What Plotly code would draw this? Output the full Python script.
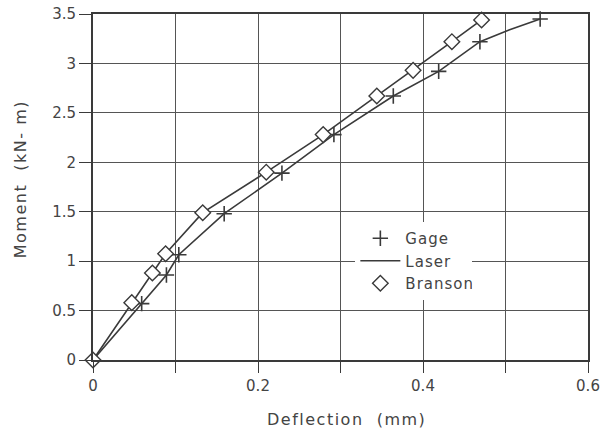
import plotly.graph_objects as go

# Data
gage_x = [0, 0.059, 0.089, 0.104, 0.159, 0.229, 0.292, 0.364, 0.419, 0.469, 0.542]
gage_y = [0, 0.57, 0.86, 1.065, 1.48, 1.89, 2.28, 2.67, 2.92, 3.22, 3.45]

laser_x = [0, 0.059, 0.089, 0.104, 0.159, 0.229, 0.292, 0.364, 0.419, 0.469, 0.505, 0.542]
laser_y = [0, 0.57, 0.86, 1.065, 1.48, 1.89, 2.28, 2.67, 2.92, 3.22, 3.34, 3.45]

branson_x = [0, 0.047, 0.072, 0.088, 0.133, 0.210, 0.279, 0.344, 0.388, 0.435, 0.471]
branson_y = [0, 0.58, 0.88, 1.075, 1.49, 1.90, 2.28, 2.67, 2.93, 3.22, 3.44]

x_ticks = [0, 0.1, 0.2, 0.3, 0.4, 0.5, 0.6]
x_ticktext = ["0", "", "0.2", "", "0.4", "", "0.6"]
y_ticks = [0, 0.5, 1, 1.5, 2, 2.5, 3, 3.5]
y_ticktext = ["0", "0.5", "1", "1.5", "2", "2.5", "3", "3.5"]

x_title = "Deflection  (mm)"
y_title = "Moment  (kN- m)"

ink = "#3a3a3a"
font = "DejaVu Sans"

fig = go.Figure()
fig.add_trace(go.Scatter(
    x=laser_x, y=laser_y, mode="lines", name="Laser", legendrank=2,
    line=dict(color=ink, width=1.6), cliponaxis=False))
fig.add_trace(go.Scatter(
    x=branson_x, y=branson_y, mode="lines", showlegend=False,
    line=dict(color=ink, width=1.6), cliponaxis=False))
fig.add_trace(go.Scatter(
    x=gage_x, y=gage_y, mode="markers", name="Gage", legendrank=1,
    marker=dict(symbol="cross-thin", size=11, line=dict(color=ink, width=1.6)),
    cliponaxis=False))
fig.add_trace(go.Scatter(
    x=branson_x, y=branson_y, mode="markers", name="Branson", legendrank=3,
    marker=dict(symbol="diamond", size=12, color="white", line=dict(color=ink, width=1.4)),
    cliponaxis=False))

fig.update_layout(
    width=610, height=431,
    margin=dict(l=93, r=22, t=14, b=71, autoexpand=False),
    paper_bgcolor="white", plot_bgcolor="white",
    font=dict(family=font, color="#444", size=14),
    showlegend=True,
    legend=dict(
        traceorder="normal",
        x=0.53, y=0.286, xanchor="left", yanchor="middle",
        bgcolor="white", borderwidth=0,
        font=dict(family=font, size=15, color="#444"),
        itemwidth=40,
    ),
    xaxis=dict(
        range=[0, 0.6], tickvals=x_ticks, ticktext=x_ticktext,
        showgrid=True, gridcolor="#555", gridwidth=1,
        showline=True, linecolor=ink, linewidth=2, mirror=True,
        ticks="outside", ticklen=11, tickcolor=ink, tickwidth=1.2,
        zeroline=False, tickfont=dict(size=15), automargin=False,
    ),
    yaxis=dict(
        range=[0, 3.5], tickvals=y_ticks, ticktext=y_ticktext,
        showgrid=True, gridcolor="#555", gridwidth=1,
        showline=True, linecolor=ink, linewidth=2, mirror=True,
        ticks="outside", ticklen=12, tickcolor=ink, tickwidth=1.2,
        zeroline=False, tickfont=dict(size=15), automargin=False,
    ),
    annotations=[
        dict(
            text=y_title, textangle=-90, showarrow=False,
            xref="paper", yref="paper", x=0, y=0.5,
            xanchor="center", yanchor="middle", xshift=-73, yshift=8,
            font=dict(family=font, size=16, color="#444"),
        ),
        dict(
            text=x_title, showarrow=False,
            xref="paper", yref="paper", x=0.5, y=0,
            xanchor="center", yanchor="middle", xshift=6, yshift=-59,
            font=dict(family=font, size=16, color="#444"),
        ),
    ],
)

post = """
var s = document.createElement('style');
s.textContent = '.annotation-text{letter-spacing:1.5px;} .legendtext{letter-spacing:1px;}';
document.head.appendChild(s);
"""

fig.write_html("out.html", post_script=post)
